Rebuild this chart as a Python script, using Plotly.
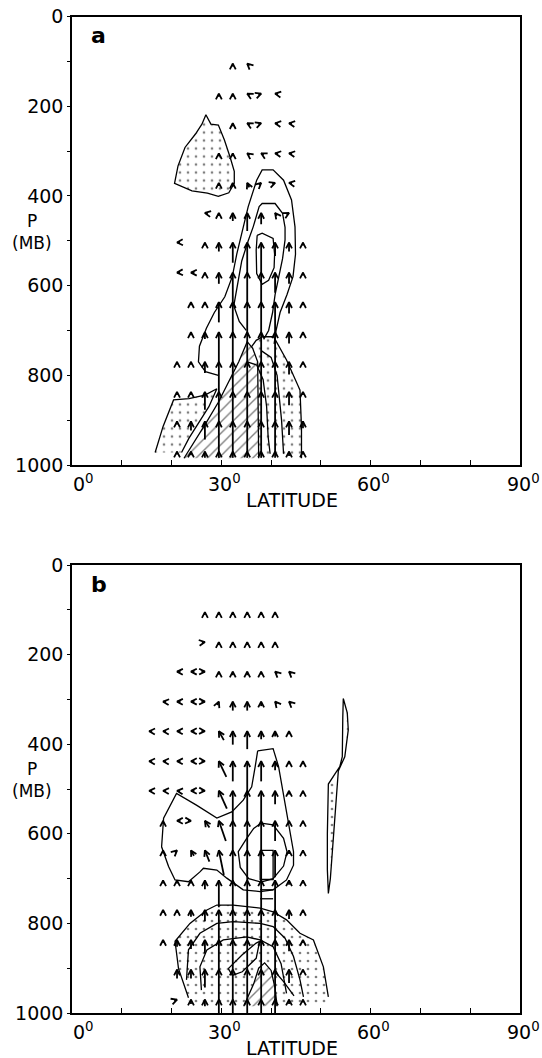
import math
import plotly.graph_objects as go

# ---------------- data ----------------
LATS = [15.5, 18.3, 21.1, 23.9, 26.7, 29.5, 32.3, 35.2, 38.0, 40.8, 43.6, 46.4]
LEVS = [105, 172, 238, 305, 371, 438, 504, 571, 637, 704, 770, 837, 903, 970]
N = None

# panel a: meridional (U) and vertical (W) components
U_A = [
    [N, N, N, N, N, N, 0, -0.3, N, N, N, N],
    [N, N, N, N, N, 0, 0, -0.5, 0.5, -0.6, N, N],
    [N, N, N, N, N, N, 0, -0.5, 0.5, -0.6, -0.6, N],
    [N, N, N, N, N, 0, 0, -0.5, -0.5, -0.6, -0.6, N],
    [N, N, N, N, N, 0, 0, -0.4, 0.4, 0.5, -0.6, N],
    [N, N, N, N, -0.5, 0, 0, 0, 0, -0.4, 0.5, N],
    [N, N, -0.6, N, 0, 0, 0, 0, 0, 0, 0, 0],
    [N, N, -0.6, -0.7, 0, 0, 0, 0, 0, 0, 0, 0],
    [N, N, N, 0, 0, 0, 0, 0, 0, 0, 0, 0],
    [N, N, N, 0, 0, 0, 0, 0, 0, 0, 0, 0],
    [N, N, 0, 0, 0, 0, 0, 0, 0, 0, 0, 0],
    [N, N, 0, 0, 0, 0, 0, 0, 0, 0, 0, 0],
    [N, N, 0, 0, 0, 0, 0, 0, 0, 0, 0, 0],
    [N, N, 0, 0, 0, 0, 0, 0, 0, 0, 0, 0],
]
W_A = [
    [N, N, N, N, N, N, 3, 3, N, N, N, N],
    [N, N, N, N, N, 3, 3, 3, 2, 1, N, N],
    [N, N, N, N, N, N, 3, 3, 2, 1, 1, N],
    [N, N, N, N, N, 3, 6, 4, 3, 1, 1, N],
    [N, N, N, N, N, 4, 8, 10, 4, 2, 1, N],
    [N, N, N, N, 1, 4, 18, 40, 25, 6, 3, N],
    [N, N, -0.3, N, 4, 20, 45, 70, 70, 30, 20, 4],
    [N, N, -0.3, 0.1, 4, 25, 66, 70, 70, 45, 25, 4],
    [N, N, N, 4, 4, 45, 68, 70, 70, 68, 25, 4],
    [N, N, N, 4, 15, 68, 68, 68, 68, 68, 25, 4],
    [N, N, 4, 4, 25, 68, 68, 68, 68, 68, 28, 5],
    [N, N, 4, 6, 40, 68, 68, 68, 68, 68, 30, 6],
    [N, N, 5, 20, 40, 68, 68, 68, 68, 68, 30, 15],
    [N, N, 4, 8, 14, 14, 14, 14, 14, 14, 10, 4],
]

# panel b
U_B = [
    [N, N, N, N, 0, 0, 0, 0, 0, 0, N, N],
    [N, N, N, N, 0.6, 0, 0, 0, 0, 0, N, N],
    [N, N, -0.7, -0.7, 0.7, 0, 0, 0, 0, -0.3, -0.3, N],
    [N, -0.5, -0.7, -0.7, 0.7, 0.3, 0, 0, 0, -0.3, -0.3, N],
    [-0.6, -0.6, -0.7, -0.7, 0.7, -1.0, 0, 0, 0, 0, 0, N],
    [-0.6, -0.6, -0.7, -0.7, 0.7, -1.5, 0, 0, 0, 0, 0, 0],
    [-0.6, -0.6, -0.5, -0.7, 0.7, -1.6, 0, 0, 0, 0, 0, 0],
    [N, 0, -0.7, 0.6, -0.9, -1.4, 0, 0, 0, 0, 0, 0],
    [N, 0, 0.3, -0.6, -0.9, -1.0, 0, 0, 0, 0, 0, 0],
    [N, 0, 0, 0, 0, 0, 0, 0, 0, 0, 0, 0],
    [N, 0, 0, 0, 0, 0, 0, 0, 0, 0, 0, 0],
    [N, 0, 0, 0, 0, 0, 0, 0, 0, 0, 0, 0],
    [N, N, 0, 0, 0, 0, 0, 0, 0, 0, 0, 0],
    [N, N, 0.5, 0, 0, 0, 0, 0, 0, 0, 0, 0],
]
W_B = [
    [N, N, N, N, 3, 3, 3, 3, 3, 3, N, N],
    [N, N, N, N, 1, 3, 5, 4, 3, 3, N, N],
    [N, N, 0.2, 0.1, 0, 4, 8, 8, 4, 3, 3, N],
    [N, 0.5, 0.2, 0, -0.1, 8, 20, 20, 10, 4, 3, N],
    [0.3, 0.3, 0.2, 0, -0.3, 20, 30, 40, 18, 12, 4, N],
    [0.3, 0.3, 0.2, 0, -0.3, 35, 45, 68, 45, 20, 4, 4],
    [0.3, 0.3, 0.5, 0, -0.3, 40, 68, 68, 68, 30, 8, 4],
    [N, 3, 0, -0.3, 15, 45, 68, 68, 68, 45, 4, 4],
    [N, 3, 3, 12, 25, 55, 68, 68, 68, 60, 8, 4],
    [N, 3, 4, 6, 20, 60, 68, 68, 68, 68, 10, 5],
    [N, 3, 5, 15, 25, 68, 68, 68, 68, 68, 20, 5],
    [N, 3, 15, 20, 30, 68, 68, 68, 68, 68, 25, 5],
    [N, N, 20, 20, 40, 68, 68, 68, 68, 68, 30, 4],
    [N, N, 2, 10, 15, 40, 40, 60, 60, 60, 10, 4],
]

# contour outlines (latitude, pressure)
A_STIP1 = [(26.9, 219), (27.9, 240), (29.4, 242), (30.6, 275), (31.8, 315), (32.6, 345), (32.6, 372),
           (31.5, 393), (29.4, 401), (27.2, 394), (24.1, 389), (20.6, 372), (21.3, 333), (22.7, 292),
           (24.8, 262), (26.1, 240), (26.9, 219)]
A_C1 = [(29.4, 800), (26.8, 792), (25.4, 770), (25.6, 735), (27.0, 695), (28.6, 660), (30.7, 625),
        (32.2, 580), (33.1, 530), (34.1, 483), (35.4, 424), (37.1, 365), (38.2, 342), (40.4, 342),
        (42.5, 365), (44.1, 409), (44.8, 469), (44.9, 530), (44.4, 580), (43.2, 620), (41.8, 660),
        (41.0, 700), (40.6, 730)]
A_C2 = [(35.0, 700), (33.6, 680), (32.5, 645), (33.2, 600), (34.1, 545), (35.4, 500), (36.4, 469),
        (37.6, 424), (38.2, 417), (40.8, 417), (42.3, 439), (42.8, 470), (42.8, 498), (42.3, 540),
        (41.5, 580), (40.8, 620), (40.3, 660), (39.5, 700), (38.5, 720)]
A_C3 = [(37.2, 488), (38.2, 483), (40.4, 495), (40.7, 530), (40.6, 560), (39.5, 588), (38.2, 597),
        (37.1, 573), (37.0, 521), (37.2, 488)]
A_STIP2 = [(16.7, 972), (18.3, 914), (20.4, 855), (23.5, 852), (26.7, 844), (29.1, 830), (27.5, 870),
           (25.5, 905), (23.5, 940), (22.0, 972)]
A_STIP3 = [(35.5, 985), (35.5, 745), (37.0, 722), (38.3, 714), (40.5, 714), (43.1, 766), (45.8, 833),
           (46.1, 915), (46.1, 985)]
A_HATCH = [(22.5, 985), (24.5, 950), (27.0, 905), (29.4, 860), (31.5, 815), (33.5, 770), (35.2, 725),
           (36.3, 740), (37.3, 770), (37.5, 985)]
A_L1 = [(35.2, 770), (37.1, 777), (38.4, 810), (39.1, 870), (39.4, 937), (39.8, 975)]
A_L2 = [(38.0, 745), (40.0, 760), (41.2, 800), (42.1, 900), (42.5, 975)]

B_C1 = [(37.3, 415), (40.4, 410), (41.5, 450), (42.8, 530), (43.5, 580), (44.5, 640), (44.5, 670),
        (43.1, 703), (40.4, 725), (37.8, 729), (34.4, 725), (31.1, 699), (29.1, 681), (26.4, 677),
        (25.7, 685), (23.4, 707), (20.7, 703), (19.4, 673), (18.0, 629), (18.4, 565), (21.0, 510),
        (25.0, 536), (29.1, 565), (32.1, 551), (34.4, 525), (36.1, 495), (36.8, 450), (37.3, 415)]
B_C2 = [(38.0, 576), (40.4, 580), (42.5, 610), (43.2, 640), (42.5, 672), (40.4, 700), (38.0, 708),
        (35.5, 700), (33.8, 675), (33.4, 640), (35.1, 610), (36.5, 588), (38.0, 576)]
B_C3 = [(37.8, 637), (40.4, 637), (40.4, 702), (37.8, 702), (37.8, 637)]
B_NECK1 = [(37.8, 725), (40.4, 725)]
B_NECK2 = [(37.8, 745), (40.4, 745)]
B_DOME = [(23.4, 966), (21.4, 901), (20.7, 840), (23.7, 800), (27.1, 770), (29.1, 759), (32.4, 759),
          (37.8, 766), (40.4, 774), (43.1, 792), (45.8, 822), (48.5, 837), (50.5, 897), (51.5, 964)]
B_D2 = [(23.0, 926), (23.4, 859), (25.7, 822), (29.1, 800), (32.4, 796), (37.8, 800), (40.4, 807),
        (42.8, 833), (44.5, 874), (45.8, 926), (46.5, 964)]
B_D3 = [(26.0, 949), (25.7, 897), (27.1, 859), (30.4, 837), (35.1, 830), (37.8, 837), (40.4, 852),
        (42.0, 890), (43.1, 956)]
B_D4 = [(31.4, 901), (34.2, 870), (37.0, 844), (37.7, 840), (37.0, 878), (34.2, 908), (32.2, 916),
        (31.4, 901)]
B_HATCH = [(34.5, 985), (36.5, 935), (37.5, 900), (38.7, 888), (40.0, 905), (40.8, 945), (41.2, 985)]
B_L1 = [(40.8, 908), (42.5, 930), (44.6, 962)]
B_SLIVER = [(54.5, 298), (55.3, 330), (55.5, 368), (55.2, 400), (54.8, 428), (53.5, 460), (53.3, 489),
            (53.0, 540), (52.6, 588), (52.2, 650), (51.9, 700), (51.5, 733), (51.3, 680), (51.3, 600),
            (51.4, 540), (51.5, 489), (52.5, 472), (53.8, 450), (54.3, 428), (54.3, 380), (54.4, 340),
            (54.5, 298)]

Y_TICKS = [0, 200, 400, 600, 800, 1000]
X_LABELS = [0, 30, 60, 90]

# ---------------- layout geometry ----------------
W_PX, H_PX = 542, 1058
X0, X1 = 72, 520
A_T, A_B = 16.5, 465
B_T, B_B = 565, 1013
PXD = (X1 - X0) / 90.0
PXP = (A_B - A_T) / 1000.0
SU = 5.0          # px per unit U
SW = PXP          # px per unit W
HEAD = 6.5
ANG = math.radians(27)
MIN_SHAFT = 3.0   # px, drawing style: every arrow shows a short stub
FONT = "DejaVu Sans"


def arrow_xy(U, W):
    xs, ys = [], []
    for i, p0 in enumerate(LEVS):
        for j, l0 in enumerate(LATS):
            w = W[i][j]
            if w is None:
                continue
            u = U[i][j] or 0.0
            dx, dy = u * SU, w * SW
            L = math.hypot(dx, dy)
            if L == 0:
                continue
            bx, by = -dx / L, -dy / L
            if L < MIN_SHAFT:
                dx, dy = -bx * MIN_SHAFT, -by * MIN_SHAFT
            xs += [l0 - dx / PXD, l0, None]
            ys += [p0 + dy / PXP, p0, None]
            pts = []
            for s in (1, -1):
                ca, sa = math.cos(s * ANG), math.sin(s * ANG)
                hx = (bx * ca - by * sa) * HEAD
                hy = (bx * sa + by * ca) * HEAD
                pts.append((l0 + hx / PXD, p0 - hy / PXP))
            xs += [pts[0][0], l0, pts[1][0], None]
            ys += [pts[0][1], p0, pts[1][1], None]
    return xs, ys


fig = go.Figure()


def poly(pts, xa, ya, pattern=None, outline=True, bg=None):
    xs = [p[0] for p in pts]
    ys = [p[1] for p in pts]
    if pattern is not None:
        fig.add_trace(go.Scatter(
            x=xs, y=ys, xaxis=xa, yaxis=ya, mode="lines", fill="toself",
            line=dict(width=0, color="rgba(0,0,0,0)"),
            fillcolor=bg if bg else "rgba(0,0,0,0)",
            fillpattern=pattern, hoverinfo="skip", showlegend=False))
    if outline:
        fig.add_trace(go.Scatter(
            x=xs, y=ys, xaxis=xa, yaxis=ya, mode="lines",
            line=dict(width=1.3, color="black"), hoverinfo="skip", showlegend=False))


STIP = dict(shape=".", fgcolor="black", bgcolor="rgba(0,0,0,0)", size=8, solidity=0.09)
HATCH = dict(shape="/", fgcolor="black", bgcolor="white", size=8, solidity=0.17)

# panel a
poly(A_STIP1, "x", "y", STIP)
poly(A_STIP2, "x", "y", STIP)
poly(A_STIP3, "x", "y", STIP)
poly(A_HATCH, "x", "y", HATCH, bg="white")
for c in (A_C1, A_C2, A_C3, A_L1, A_L2):
    poly(c, "x", "y")
ax_, ay_ = arrow_xy(U_A, W_A)
fig.add_trace(go.Scatter(x=ax_, y=ay_, xaxis="x", yaxis="y", mode="lines",
                         line=dict(width=1.8, color="black"), hoverinfo="skip", showlegend=False))

# panel b
dome_fill = B_DOME + [(51.5, 985), (23.6, 985)]
poly(dome_fill, "x2", "y2", STIP, outline=False)
poly(B_DOME, "x2", "y2")
poly(B_HATCH, "x2", "y2", HATCH, bg="white")
poly(B_SLIVER, "x2", "y2", STIP)
for c in (B_C1, B_C2, B_C3, B_NECK1, B_NECK2, B_D2, B_D3, B_D4, B_L1):
    poly(c, "x2", "y2")
bx_, by_ = arrow_xy(U_B, W_B)
fig.add_trace(go.Scatter(x=bx_, y=by_, xaxis="x2", yaxis="y2", mode="lines",
                         line=dict(width=1.8, color="black"), hoverinfo="skip", showlegend=False))

xdom = [X0 / W_PX, X1 / W_PX]
common_x = dict(range=[0, 90], domain=xdom, showline=True, linecolor="black", linewidth=1.5,
                mirror=True, showgrid=False, zeroline=False, showticklabels=False, automargin=False,
                tickmode="array", tickvals=list(range(0, 91, 10)), ticks="inside", ticklen=5,
                tickcolor="black", tickwidth=1.2)
common_y = dict(range=[1000, 0], showline=True, linecolor="black", linewidth=1.5, mirror=True,
                showgrid=False, zeroline=False, tickmode="array", tickvals=Y_TICKS, automargin=False,
                ticktext=[str(v) for v in Y_TICKS], ticks="outside", ticklen=3, tickcolor="black",
                tickfont=dict(family=FONT, size=19, color="black"),
                minor=dict(tickvals=[100, 300, 500, 700, 900], ticks="outside", ticklen=3,
                           tickcolor="black"))

fig.update_layout(
    width=W_PX, height=H_PX, margin=dict(l=0, r=0, t=0, b=0, pad=0, autoexpand=False),
    paper_bgcolor="white", plot_bgcolor="white", showlegend=False,
    xaxis=dict(common_x, anchor="y"),
    yaxis=dict(common_y, domain=[1 - A_B / H_PX, 1 - A_T / H_PX], anchor="x"),
    xaxis2=dict(common_x, anchor="y2"),
    yaxis2=dict(common_y, domain=[1 - B_B / H_PX, 1 - B_T / H_PX], anchor="x2"),
)

ann = []
for top, bot, lab in ((A_T, A_B, "a"), (B_T, B_B, "b")):
    for v in X_LABELS:
        xp = X0 + v * PXD
        if v == 0:
            ann.append(dict(x=(X0 - 1) / W_PX, xanchor="left"))
        else:
            ann.append(dict(x=(xp + 3) / W_PX, xanchor="center"))
        ann[-1].update(y=1 - (bot + 4) / H_PX, yanchor="top", text=f"{v}<sup>0</sup>")
    ann.append(dict(x=292 / W_PX, y=1 - (bot + 35) / H_PX, xanchor="center", yanchor="middle",
                    text="LATITUDE"))
    ann.append(dict(x=32 / W_PX, y=1 - (top + 204) / H_PX, xanchor="center", yanchor="middle",
                    text="P", font=dict(family=FONT, size=17, color="black")))
    ann.append(dict(x=32 / W_PX, y=1 - (top + 226) / H_PX, xanchor="center", yanchor="middle",
                    text="(MB)", font=dict(family=FONT, size=17, color="black")))
    ann.append(dict(x=89 / W_PX, y=1 - (top + 19) / H_PX, xanchor="left", yanchor="middle",
                    text=f"<b>{lab}</b>", font=dict(family=FONT, size=22, color="black")))
for a in ann:
    a.update(xref="paper", yref="paper", showarrow=False)
    a.setdefault("font", dict(family=FONT, size=19, color="black"))
fig.update_layout(annotations=ann)

fig.write_html("out.html")
